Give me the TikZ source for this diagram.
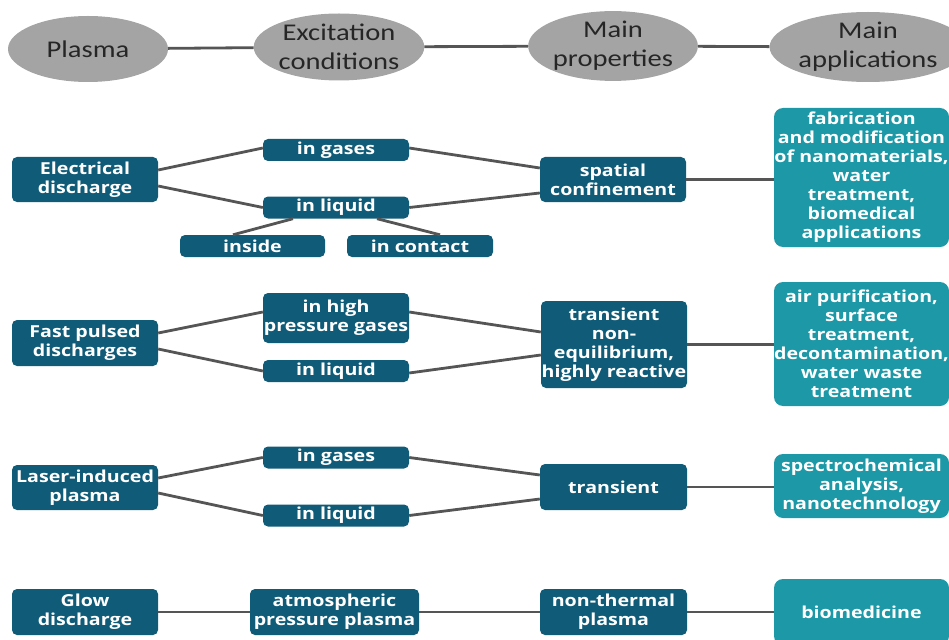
\documentclass[tikz,border=0pt]{standalone}
\usepackage{fontspec}
\newfontfamily\ellfont[FakeStretch=1.19]{Carlito}
\newfontfamily\boxfont[FakeStretch=1.19]{Open Sans}
\usetikzlibrary{shapes.geometric,calc}
\definecolor{darkbox}{RGB}{16,92,120}
\definecolor{appbox}{RGB}{28,152,166}
\definecolor{ellgray}{RGB}{164,164,164}
\definecolor{linegray}{RGB}{85,85,85}
\begin{document}
\begin{tikzpicture}[x=1pt,y=-1pt,
 ell/.style={ellipse, fill=ellgray, inner sep=0pt, align=center, text=black!85, font=\ellfont\fontsize{24}{29}\selectfont},
 dbox/.style={rectangle, rounded corners=5pt, fill=darkbox, text=white, inner sep=0pt, align=center, font=\boxfont\bfseries\fontsize{16.5}{19}\selectfont},
 abox/.style={rectangle, rounded corners=9pt, fill=appbox, text=white, inner sep=0pt, align=center, font=\boxfont\bfseries\fontsize{16.5}{19}\selectfont},
 conn/.style={draw=linegray, line width=2.8pt},
]
\useasboundingbox (0,0) rectangle (949,639);
\clip (0,0) rectangle (949,639);

% header ellipses
\node[ell, minimum width=160, minimum height=66] (h1) at (88,49) {Plasma};
\node[ell, minimum width=162, minimum height=67] (h2) at (339,47) {Excitation\\conditions};
\node[ell, minimum width=162, minimum height=68] (h3) at (613,46) {Main\\properties};
\node[ell, minimum width=162, minimum height=70] (h4) at (868,47) {Main\\applications};
\draw[conn] (h1) -- (h2);
\draw[conn] (h2) -- (h3);
\draw[conn] (h3) -- (h4);

% row 1
\node[dbox, minimum width=146, minimum height=45] (ed) at (85,179.5) {Electrical\\discharge};
\node[dbox, minimum width=146, minimum height=22] (g1) at (336,150) {in gases};
\node[dbox, minimum width=146, minimum height=22] (l1) at (336,207.5) {in liquid};
\node[dbox, minimum width=145, minimum height=22] (ins) at (252.5,246) {inside};
\node[dbox, minimum width=146, minimum height=22] (ctc) at (420,246) {in contact};
\node[dbox, minimum width=146, minimum height=45] (sc) at (613,179.5) {spatial\\confinement};
\node[abox, minimum width=175, minimum height=139] (a1) at (861.5,177.5) {fabrication\\and modification\\of nanomaterials,\\water\\treatment,\\biomedical\\applications};
\draw[conn] ($(ed.east)+(0,-9.5)$) -- ($(g1.west)+(0,-2)$);
\draw[conn] ($(ed.east)+(0,6.5)$) -- (l1.west);
\draw[conn] ($(l1.south)+(-43,0)$) -- ($(ins.north)+(-19.5,0)$);
\draw[conn] ($(l1.south)+(41,0)$) -- ($(ctc.north)+(20,0)$);
\draw[conn] ($(g1.east)+(0,-2)$) -- ($(sc.west)+(0,-11.5)$);
\draw[conn] (l1.east) -- ($(sc.west)+(0,13.5)$);
\draw[conn] (sc.east) -- (sc.east -| a1.west);

% row 2
\node[dbox, minimum width=146, minimum height=46] (fp) at (85,343) {Fast pulsed\\discharges};
\node[dbox, minimum width=146, minimum height=50] (hp) at (336,318) {in high\\pressure gases};
\node[dbox, minimum width=146, minimum height=22] (l2) at (336,371) {in liquid};
\node[dbox, minimum width=146, minimum height=87] (tne) at (614,344.5) {transient\\non-\\equilibrium,\\highly reactive};
\node[abox, minimum width=175, minimum height=124] (a2) at (861.5,344) {air purification,\\surface\\treatment,\\decontamination,\\water waste\\treatment};
\draw[conn] ($(fp.east)+(0,-10)$) -- ($(hp.west)+(0,-6)$);
\draw[conn] ($(fp.east)+(0,6)$) -- (l2.west);
\draw[conn] ($(hp.east)+(0,-6)$) -- ($(tne.west)+(0,-12.5)$);
\draw[conn] ($(l2.east)+(0,2)$) -- ($(tne.west)+(0,10.5)$);
\draw[conn] (tne.east) -- (tne.east -| a2.west);

% row 3
\node[dbox, minimum width=146, minimum height=45] (li) at (85,487.5) {Laser-induced\\plasma};
\node[dbox, minimum width=146, minimum height=22] (g3) at (336,457.5) {in gases};
\node[dbox, minimum width=146, minimum height=22] (l3) at (336,515.5) {in liquid};
\node[dbox, minimum width=147, minimum height=46] (tr) at (613.5,487) {transient};
\node[abox, minimum width=175, minimum height=64] (a3) at (861.5,486) {spectrochemical\\analysis,\\nanotechnology};
\draw[conn] ($(li.east)+(0,-9.5)$) -- (g3.west);
\draw[conn] ($(li.east)+(0,5.5)$) -- (l3.west);
\draw[conn] (g3.east) -- ($(tr.west)+(0,-12)$);
\draw[conn] (l3.east) -- ($(tr.west)+(0,12)$);
\draw[conn] (tr.east) -- (tr.east -| a3.west);

% row 4
\node[dbox, minimum width=146, minimum height=46] (gd) at (85,612) {Glow\\discharge};
\node[dbox, minimum width=169, minimum height=46] (apl) at (334.5,612) {atmospheric\\pressure plasma};
\node[dbox, minimum width=147, minimum height=46] (nt) at (613.5,612) {non-thermal\\plasma};
\node[abox, minimum width=175, minimum height=66] (bio) at (861.5,612) {biomedicine};
\draw[conn] (gd) -- (apl);
\draw[conn] (apl) -- (nt);
\draw[conn] (nt) -- (bio);
\end{tikzpicture}
\end{document}
